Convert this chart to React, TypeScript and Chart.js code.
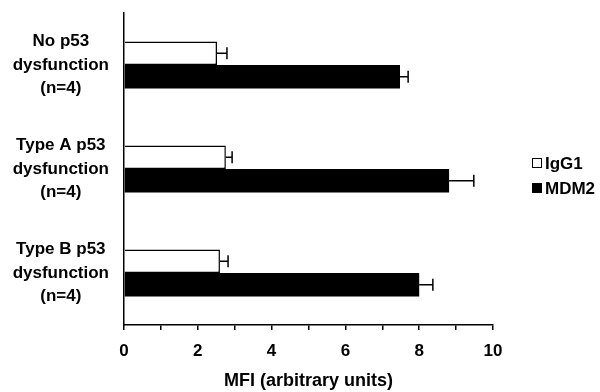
import React, { useEffect, useRef } from "react";
import { Chart, registerables } from "chart.js";

Chart.register(...registerables);

const categories = ["No p53|dysfunction|(n=4)", "Type A p53|dysfunction|(n=4)", "Type B p53|dysfunction|(n=4)"];
const seriesNames = ["IgG1", "MDM2"];
const igg1Values = [2.52, 2.76, 2.6];
const igg1Errors = [0.27, 0.17, 0.22];
const mdm2Values = [7.48, 8.81, 8.0];
const mdm2Errors = [0.22, 0.67, 0.37];
const xTicks = [0, 2, 4, 6, 8, 10];
const xTitle = "MFI (arbitrary units)";

const FONT = "'Liberation Sans', Arial, Helvetica, sans-serif";

const errorBarPlugin = {
  id: "errorBars",
  afterDatasetsDraw(chart: any) {
    const ctx = chart.ctx;
    const xScale = chart.scales.x;
    chart.data.datasets.forEach((ds: any, i: number) => {
      const meta = chart.getDatasetMeta(i);
      meta.data.forEach((el: any, j: number) => {
        const v = ds.data[j];
        const e = ds.errors[j];
        const xEnd = xScale.getPixelForValue(v + e);
        const y = el.y;
        ctx.save();
        ctx.strokeStyle = "#000";
        ctx.lineWidth = 1.5;
        ctx.beginPath();
        ctx.moveTo(el.x, y);
        ctx.lineTo(xEnd, y);
        ctx.moveTo(xEnd, y - 6);
        ctx.lineTo(xEnd, y + 6);
        ctx.stroke();
        ctx.restore();
      });
    });
  },
};

const legendPlugin = {
  id: "customLegend",
  afterDraw(chart: any) {
    const ctx = chart.ctx;
    const items = chart.data.datasets;
    const x0 = 532;
    const ys = [163, 188];
    ctx.save();
    ctx.font = `bold 17px ${FONT}`;
    ctx.textBaseline = "middle";
    ctx.fillStyle = "#000";
    items.forEach((ds: any, i: number) => {
      const y = ys[i];
      ctx.fillStyle = ds.backgroundColor;
      ctx.fillRect(x0, y - 5, 10, 10);
      ctx.strokeStyle = "#000";
      ctx.lineWidth = 1;
      ctx.strokeRect(x0 + 0.5, y - 4.5, 9, 9);
      ctx.fillStyle = "#000";
      ctx.fillText(ds.label, x0 + 13, y + 1);
    });
    ctx.restore();
  },
};

export default function App() {
  const ref = useRef<HTMLCanvasElement>(null);
  useEffect(() => {
    if (!ref.current) return;
    Chart.defaults.color = "#000";
    const chart = new Chart(ref.current, {
      type: "bar",
      data: {
        labels: categories.map((c) => c.split("|")),
        datasets: [
          {
            label: seriesNames[0],
            data: igg1Values,
            errors: igg1Errors,
            backgroundColor: "#ffffff",
            borderColor: "#000000",
            borderWidth: 1.5,
            barPercentage: 1,
            categoryPercentage: 0.45,
          } as any,
          {
            label: seriesNames[1],
            data: mdm2Values,
            errors: mdm2Errors,
            backgroundColor: "#000000",
            borderColor: "#000000",
            borderWidth: 0,
            barPercentage: 1,
            categoryPercentage: 0.45,
          } as any,
        ],
      },
      options: {
        indexAxis: "y",
        responsive: false,
        animation: false,
        layout: { padding: { top: 13, right: 107, bottom: 0, left: 0 } },
        plugins: {
          legend: { display: false },
          tooltip: { enabled: false },
        },
        scales: {
          x: {
            min: 0,
            max: 10,
            ticks: {
              stepSize: 1,
              autoSkip: false,
              maxRotation: 0,
              padding: 11,
              color: "#000",
              font: { family: FONT, size: 17, weight: "bold" },
              callback: (v: any) => (xTicks.includes(Number(v)) ? String(v) : ""),
            },
            grid: {
              display: true,
              drawOnChartArea: false,
              drawTicks: true,
              tickLength: 5,
              color: "#000",
              lineWidth: 1.5,
            },
            border: { display: true, color: "#000", width: 1.5 },
            title: {
              display: true,
              text: xTitle,
              color: "#000",
              font: { family: FONT, size: 18, weight: "bold" },
              padding: { top: 10, bottom: 0 },
            },
            afterFit: (scale: any) => {
              scale.height = 67;
            },
          },
          y: {
            ticks: {
              crossAlign: "center",
              padding: 15,
              color: "#000",
              font: { family: FONT, size: 17, weight: "bold", lineHeight: 1.38 },
            },
            grid: { display: false, drawTicks: false },
            border: { display: true, color: "#000", width: 1.5 },
            afterFit: (scale: any) => {
              scale.width = 124;
              scale.paddingTop = 0;
              scale.paddingBottom = 0;
            },
          },
        },
      } as any,
      plugins: [errorBarPlugin, legendPlugin],
    });
    return () => chart.destroy();
  }, []);
  return (
    <div style={{ position: "fixed", left: 0, top: 0, width: 600, height: 392, background: "#fff" }}>
      <canvas ref={ref} width={600} height={392} style={{ display: "block" }} />
    </div>
  );
}
